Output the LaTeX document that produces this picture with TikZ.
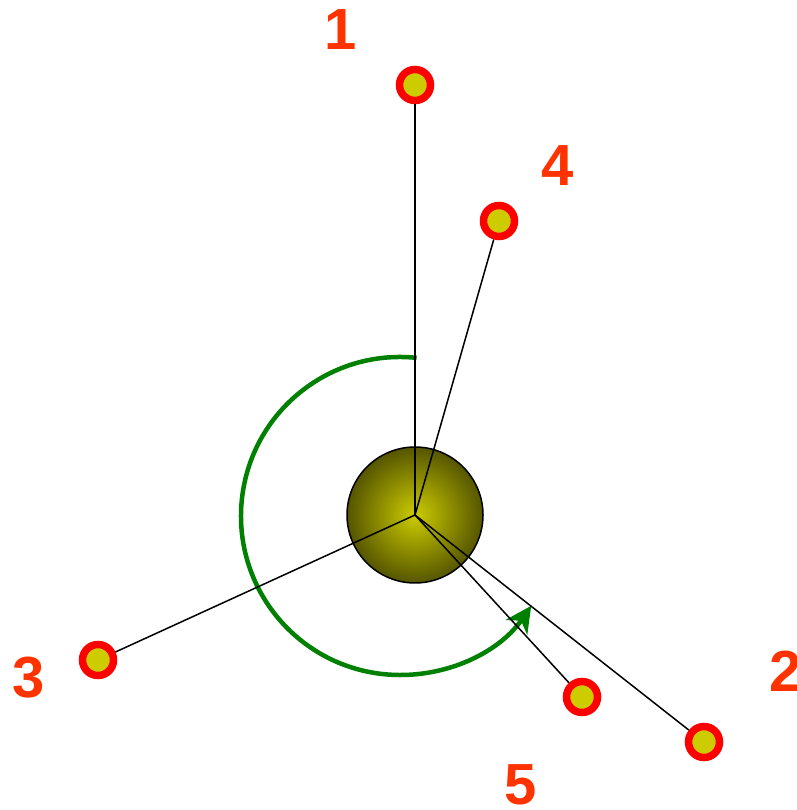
\documentclass[tikz,border=0pt]{standalone}
\usepackage{fontspec}
\setmainfont{Liberation Sans}
\usetikzlibrary{arrows.meta}
\definecolor{ringred}{RGB}{255,0,0}
\definecolor{dotyellow}{RGB}{204,204,0}
\definecolor{lblcol}{RGB}{255,51,0}
\definecolor{arcgreen}{RGB}{0,128,0}
\definecolor{balldark}{RGB}{85,85,0}
\tikzset{
  atom/.style={circle, draw=ringred, line width=7.5pt, fill=dotyellow, minimum size=31pt, inner sep=0pt},
  bond/.style={draw=black, line width=1.5pt},
  lbl/.style={text=lblcol, font=\fontsize{58}{58}\selectfont\bfseries, inner sep=0pt, text depth=0pt},
  ball/.style={circle, draw=black, line width=1.5pt, minimum size=136pt, inner sep=0pt,
    inner color=dotyellow, outer color=balldark},
  rot/.style={draw=arcgreen, line width=4.5pt, -{Stealth[length=26pt,width=26pt,inset=8pt]}}
}
\begin{document}
\begin{tikzpicture}[x=1pt,y=1pt]
\useasboundingbox (0,0) rectangle (796,810);
\node[ball] (c) at (415,295) {};
\coordinate (arcC) at (400,294);
\draw[rot] ([shift={(84:159)}]arcC) arc[start angle=84, end angle=325.6, radius=159];
\node[atom] (p1) at (415,725) {};
\node[atom] (p4) at (499,589) {};
\node[atom] (p3) at (98,150) {};
\node[atom] (p5) at (582,113) {};
\node[atom] (p2) at (704,68) {};
\foreach \p in {p1,p2,p3,p4,p5} \draw[bond] (c.center) -- (\p);
\node[lbl] (l1) at (341,780) {1};
\node[lbl] (l4) at (558,644) {4};
\node[lbl] (l3) at (29,133) {3};
\node[lbl] (l2) at (786,139) {2};
\node[lbl] (l5) at (521,25) {5};
\end{tikzpicture}
\end{document}
